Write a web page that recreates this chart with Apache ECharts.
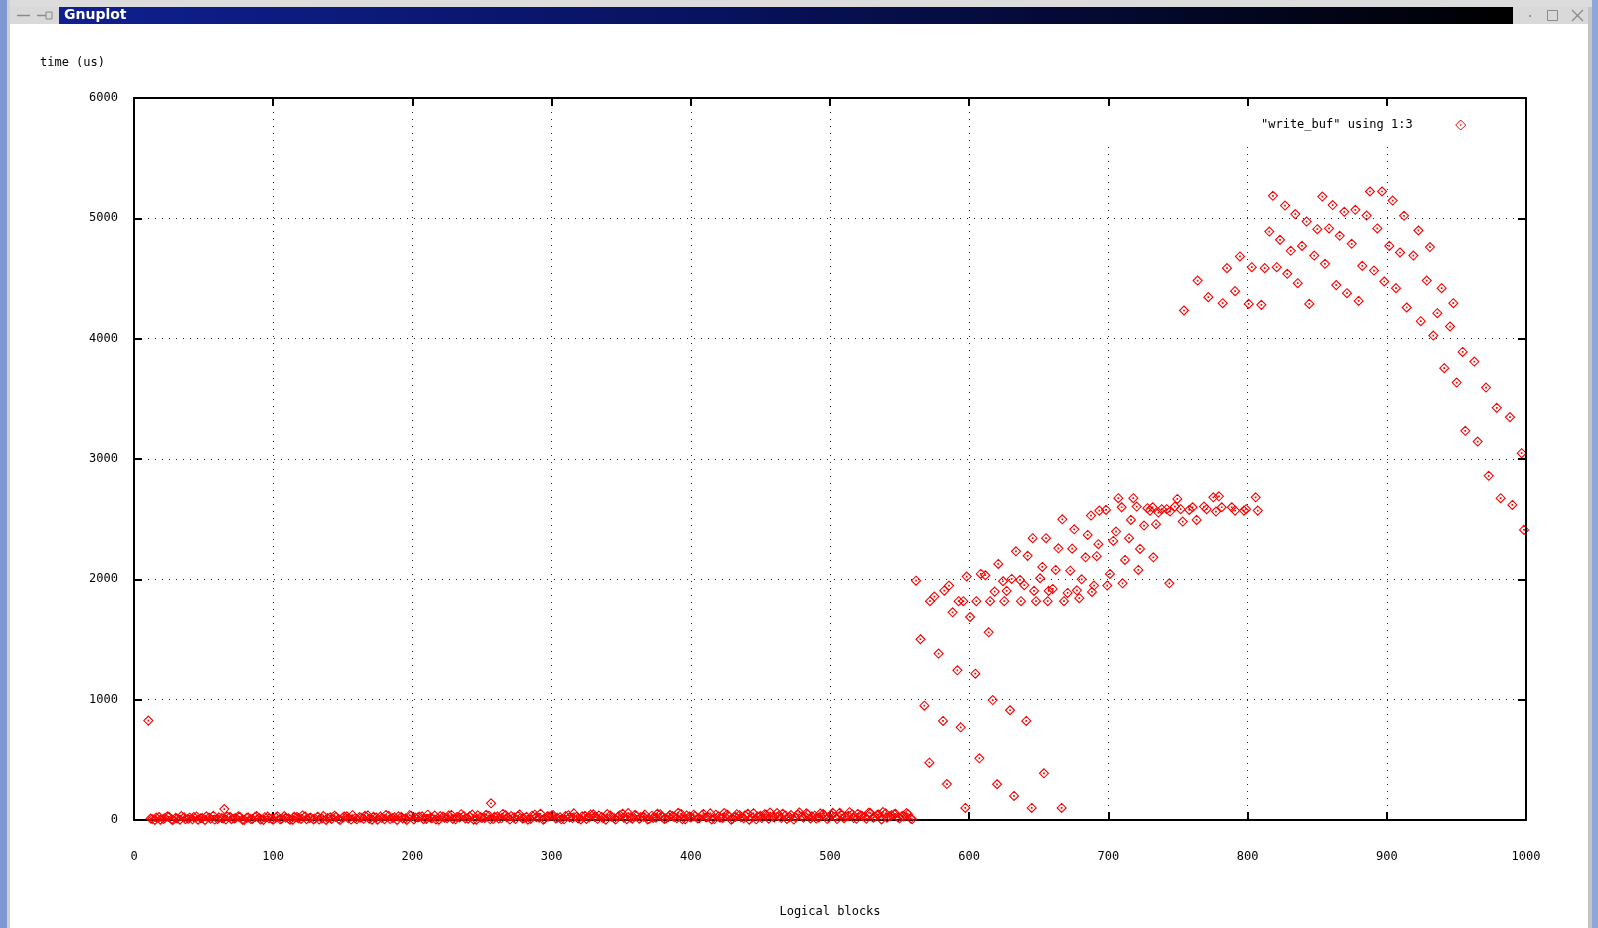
<!DOCTYPE html>
<html>
<head>
<meta charset="utf-8">
<script src="https://cdn.jsdelivr.net/npm/echarts@6/dist/echarts.min.js"></script>
<style>html,body{margin:0;padding:0;background:#fff;}#c{width:1598px;height:928px;}</style>
</head>
<body>
<div id="c"></div>
<script>
// ---- data ----
var xTicks = [0,100,200,300,400,500,600,700,800,900,1000];
var yTicks = [0,1000,2000,3000,4000,5000,6000];
var seriesName = '"write_buf" using 1:3';

// isolated early points
var earlyX = [10.3, 64.9, 256.5];
var earlyY = [826, 91, 139];

// dense band near zero (logical blocks 12..559)
var bandX = [12,15,18,21,24,27,30,33,36,39,42,45,48,51,54,57,60,63,66,69,72,75,78,81,84,87,90,93,96,99,
102,105,108,111,114,117,120,123,126,129,132,135,138,141,144,147,150,153,156,159,162,165,168,171,174,177,180,183,186,189,
192,195,198,201,204,207,210,213,216,219,222,225,228,231,234,237,240,243,246,249,252,255,258,261,264,267,270,273,276,279,
282,285,288,291,294,297,300,303,306,309,312,315,318,321,324,327,330,333,336,339,342,345,348,351,354,357,360,363,366,369,
372,375,378,381,384,387,390,393,396,399,402,405,408,411,414,417,420,423,426,429,432,435,438,441,444,447,450,453,456,459,
462,465,468,471,474,477,480,483,486,489,492,495,498,501,504,507,510,513,516,519,522,525,528,531,534,537,540,543,546,549,
552,555,558];
var bandY = [12,0,25,8,30,5,18,2,22,10, 6,28,14,0,20,35,9,16,4,26, 12,30,3,19,8,24,15,0,28,11,
20,6,33,14,2,25,9,30,17,5, 27,12,0,22,36,8,19,31,4,15, 24,10,38,2,21,29,7,34,16,0,
26,13,40,5,22,31,9,18,37,3, 28,15,42,6,20,33,11,45,2,24, 17,36,8,29,14,41,4,22,35,12,
26,9,44,18,3,31,38,13,23,6, 40,16,28,5,35,20,47,10,25,2, 38,14,30,52,7,22,43,11,27,4,
36,18,48,9,25,33,15,50,6,29, 44,12,38,21,55,8,31,17,46,3, 27,40,14,52,20,6,35,48,11,29,
58,16,38,24,4,45,30,55,13,36, 21,50,8,42,28,60,15,34,47,10, 39,25,62,18,44,5,55,31,48,22,
35,58,12];
var band2X = [13,16,19,22,25,28,31,34,37,40,43,46,49,52,55,58,61,64,67,70,73,76,79,82,85,88,91,94,97,100,
103,106,109,112,115,118,121,124,127,130,133,136,139,142,145,148,151,154,157,160,163,166,169,172,175,178,181,184,187,190,
193,196,199,202,205,208,211,214,217,220,223,226,229,232,235,238,241,244,247,250,253,256,259,262,265,268,271,274,277,280,
283,286,289,292,295,298,301,304,307,310,313,316,319,322,325,328,331,334,337,340,343,346,349,352,355,358,361,364,367,370,
373,376,379,382,385,388,391,394,397,400,403,406,409,412,415,418,421,424,427,430,433,436,439,442,445,448,451,454,457,460,
463,466,469,472,475,478,481,484,487,490,493,496,499,502,505,508,511,514,517,520,523,526,529,532,535,538,541,544,547,550,
553,556,559];
var band2Y = [8,20,3,15,27,1,12,33,6,19, 24,2,17,31,10,4,22,13,29,7, 16,26,1,21,9,34,5,23,14,2,
30,11,18,3,27,15,38,7,20,12, 4,33,17,9,25,1,29,14,40,6, 19,35,11,27,3,16,42,8,23,30,
12,1,36,20,28,7,44,15,4,32, 19,38,9,25,48,13,30,2,39,17, 43,6,27,12,50,21,33,8,46,15,
3,36,24,52,10,29,41,18,6,34, 22,55,13,31,9,45,26,37,15,49, 28,4,40,19,57,11,34,24,45,8,
17,52,30,13,42,26,60,7,38,21, 33,14,50,27,5,44,19,58,35,10, 48,23,39,2,56,29,16,45,62,20,
33,52,9,41,25,63,18,47,30,12, 54,37,22,60,8,43,28,65,16,50, 34,10,57,26,45,66,19,40,52,14,
30,48,6];

// middle region (blocks ~560..810)
var midX = [561.8,565,567.8,571.4,571.8,575,578,581.2,582.1,584,585.5,588.1,591.5,592.4,593.9,595.8,597.2,598.2,600.6,604.4,
605.1,607.3,608.3,611.6,614,615,616.9,618.3,620,620.9,624.3,625.2,626.9,629.3,630.5,632.2,633.6,636.5,637.2,639.6,
641,642,644.9,645.6,646.6,648,650.9,652.5,653.7,655.2,656.4,657.1,660,662.1,664.1,666.4,666.9,668.1,670.7,672.6,
674,675.5,677.4,679.1,680.8,683.6,685.1,687.5,688.2,689.7,691.6,692.8,693.5,698.3,699.2,701.1,703.5,705.5,707.1,709.5,
710.2,711.9,714.8,716.2,717.9,720.3,721.5,722.7,725.6,728,729.9,731.8,732.3,734.2,735.9,738.3,741.9,743.8,744.3,747.8,
749.5,751.9,753.4,758.1,760.5,763.4,768.7,770.6,775.4,777.3,779.4,781.4,788.6,791,797.4,798.9,805.8,807.3];
var midY = [1989,1502,950,476,1818,1857,1383,823,1906,299,1948,1726,1244,1818,770,1818,100,2023,1687,1216,
1818,513,2045,2034,1560,1818,997,1898,297,2128,1984,1818,1904,912,2003,200,2233,1995,1818,1951,
823,2195,100,2342,1904,1818,2009,2103,388,2342,1818,1904,1920,2078,2258,100,2499,1818,1887,2072,
2255,2416,1909,1843,2000,2183,2369,2530,1895,1948,2192,2292,2571,2577,1948,2045,2319,2397,2674,2599,
1967,2161,2342,2494,2674,2605,2078,2253,2447,2591,2571,2599,2183,2458,2555,2583,2583,1967,2563,2605,
2668,2583,2480,2577,2599,2494,2605,2583,2682,2563,2690,2599,2599,2571,2571,2583,2682,2571];

// upper region (blocks ~750..1000)
var highX = [754.3,764.1,771.8,782.1,785.2,791,794.5,800.8,803,809.9,812.3,815.6,818.2,820.9,823.3,826.9,828.5,831,834.3,836,
839.1,842.4,844.3,847.9,850.1,853.7,855.6,858.5,861.1,863.7,866.2,869.5,871.4,874.8,877.4,879.8,882.4,885.5,887.9,890.8,
893.2,896.6,898.2,901.8,904.2,906.6,909.5,912.4,914.3,919.1,922.7,924.4,928.7,931,933.4,936.3,939.4,941.3,945.4,947.8,
950.2,954.5,956.4,962.9,965.3,971.3,973.2,979,981.8,988.5,990.2,996.9,998.6];
var highY = [4234,4483,4345,4295,4586,4395,4683,4289,4594,4281,4586,4890,5187,4594,4821,5106,4539,4730,5035,4461,
4771,4973,4289,4691,4910,5181,4622,4916,5110,4445,4855,5054,4378,4788,5071,4314,4605,5023,5223,4566,
4916,5223,4475,4771,5148,4420,4716,5021,4259,4691,4899,4145,4483,4761,4026,4212,4420,3755,4101,4295,
3635,3890,3234,3810,3145,3594,2860,3425,2674,3348,2618,3048,2411];

// ---- build ----
function pairs(xs, ys) { var o = []; for (var i = 0; i < xs.length; i++) o.push([xs[i], ys[i]]); return o; }
var allData = [].concat(pairs(earlyX, earlyY), pairs(bandX, bandY), pairs(band2X, band2Y), pairs(midX, midY), pairs(highX, highY));

var MONO = 'DejaVu Sans Mono';
var diamond = 'path://M0,-5L5,0L0,5L-5,0Z M-0.35,-0.35L0.35,-0.35L0.35,0.35L-0.35,0.35Z';
var chart = echarts.init(document.getElementById('c'), null, {renderer: 'canvas'});

var gridLine = {show: true, lineStyle: {color: '#222', width: 1, type: [1, 6]}};
var border = {show: true, onZero: false, lineStyle: {color: '#000', width: 2}};
var tick = {show: true, inside: true, length: 8, lineStyle: {color: '#000', width: 2}};
var plain = function (v) { return String(v); };

chart.setOption({
  animation: false,
  backgroundColor: '#ffffff',
  grid: {left: 134, right: 72, top: 98, bottom: 108, containLabel: false},
  legend: {
    data: [seriesName], left: 1256, top: 114, align: 'right', orient: 'horizontal',
    itemWidth: 10, itemHeight: 10, icon: diamond,
    itemStyle: {color: 'transparent', borderColor: '#ff0000', borderWidth: 1},
    textStyle: {fontFamily: MONO, fontSize: 12, color: '#000', padding: [0, 38, 0, 0]},
    selectedMode: false
  },
  xAxis: [
    {type: 'value', min: 0, max: 1000, interval: 100, position: 'bottom',
     name: 'Logical blocks', nameLocation: 'middle', nameGap: 86,
     nameTextStyle: {fontFamily: MONO, fontSize: 12, color: '#000'},
     axisLine: border, axisTick: tick, splitLine: gridLine,
     axisLabel: {fontFamily: MONO, fontSize: 12, color: '#000', margin: 31, formatter: plain}},
    {type: 'value', min: 0, max: 1000, interval: 100, position: 'top', z: 5,
     axisLine: border, axisTick: tick, splitLine: {show: false}, axisLabel: {show: false}}
  ],
  yAxis: [
    {type: 'value', min: 0, max: 6000, interval: 1000, position: 'left',
     name: 'time (us)', nameLocation: 'end', nameGap: 29,
     nameTextStyle: {fontFamily: MONO, fontSize: 12, color: '#000', align: 'right', padding: [0, 29, 0, 0]},
     axisLine: border, axisTick: tick, splitLine: gridLine,
     axisLabel: {fontFamily: MONO, fontSize: 12, color: '#000', margin: 16, formatter: plain}},
    {type: 'value', min: 0, max: 6000, interval: 1000, position: 'right', z: 5,
     axisLine: border, axisTick: tick, splitLine: {show: false}, axisLabel: {show: false}}
  ],
  graphic: [
    // key area mask (gnuplot clears grid behind key)
    {type: 'rect', z: 1, silent: true, shape: {x: 1040, y: 100, width: 483, height: 42}, style: {fill: '#fff'}},
    // window chrome
    {type: 'rect', z: 10, silent: true, shape: {x: 0, y: 0, width: 1598, height: 7}, style: {fill: '#dcdcdc'}},
    {type: 'rect', z: 10, silent: true, shape: {x: 8, y: 7, width: 1584, height: 17}, style: {fill: '#d9d9d9'}},
    {type: 'rect', z: 11, silent: true, shape: {x: 59, y: 7, width: 1454, height: 17},
     style: {fill: new echarts.graphic.LinearGradient(0, 0, 1, 0, [
       {offset: 0, color: '#0f2090'}, {offset: 0.45, color: '#08125e'}, {offset: 1, color: '#000000'}])}},
    {type: 'text', z: 12, silent: true, left: 64, top: 8,
     style: {text: 'Gnuplot', fill: '#ffffff', font: 'bold 14px "DejaVu Sans"'}},
    {type: 'line', z: 12, silent: true, shape: {x1: 17, y1: 15.5, x2: 30, y2: 15.5}, style: {stroke: '#8a8a8a', lineWidth: 1.5}},
    {type: 'line', z: 12, silent: true, shape: {x1: 37, y1: 15.5, x2: 46, y2: 15.5}, style: {stroke: '#8a8a8a', lineWidth: 1.5}},
    {type: 'rect', z: 12, silent: true, shape: {x: 46, y: 12, width: 6, height: 7}, style: {fill: 'none', stroke: '#8a8a8a', lineWidth: 1}},
    {type: 'rect', z: 12, silent: true, shape: {x: 1529, y: 15, width: 2, height: 2}, style: {fill: '#9a9a9a'}},
    {type: 'rect', z: 12, silent: true, shape: {x: 1547.5, y: 10.5, width: 10, height: 10}, style: {fill: 'none', stroke: '#8a8a8a', lineWidth: 1}},
    {type: 'line', z: 12, silent: true, shape: {x1: 1572, y1: 10, x2: 1583, y2: 21}, style: {stroke: '#8a8a8a', lineWidth: 1.2}},
    {type: 'line', z: 12, silent: true, shape: {x1: 1583, y1: 10, x2: 1572, y2: 21}, style: {stroke: '#8a8a8a', lineWidth: 1.2}},
    {type: 'rect', z: 10, silent: true, shape: {x: 0, y: 0, width: 7, height: 928}, style: {fill: '#7e99d2'}},
    {type: 'rect', z: 10, silent: true, shape: {x: 7, y: 0, width: 3, height: 928}, style: {fill: '#cfcfcf'}},
    {type: 'rect', z: 10, silent: true, shape: {x: 1588, y: 7, width: 4, height: 921}, style: {fill: '#c4c4c4'}},
    {type: 'rect', z: 10, silent: true, shape: {x: 1592, y: 0, width: 6, height: 928}, style: {fill: '#8ea6d8'}}
  ],
  series: [{
    name: seriesName, type: 'scatter', xAxisIndex: 0, yAxisIndex: 0, z: 3,
    symbol: diamond, symbolSize: 9,
    itemStyle: {color: 'transparent', borderColor: '#ff0000', borderWidth: 1.1, opacity: 1},
    emphasis: {disabled: true},
    data: allData
  }]
});
</script>
</body>
</html>
